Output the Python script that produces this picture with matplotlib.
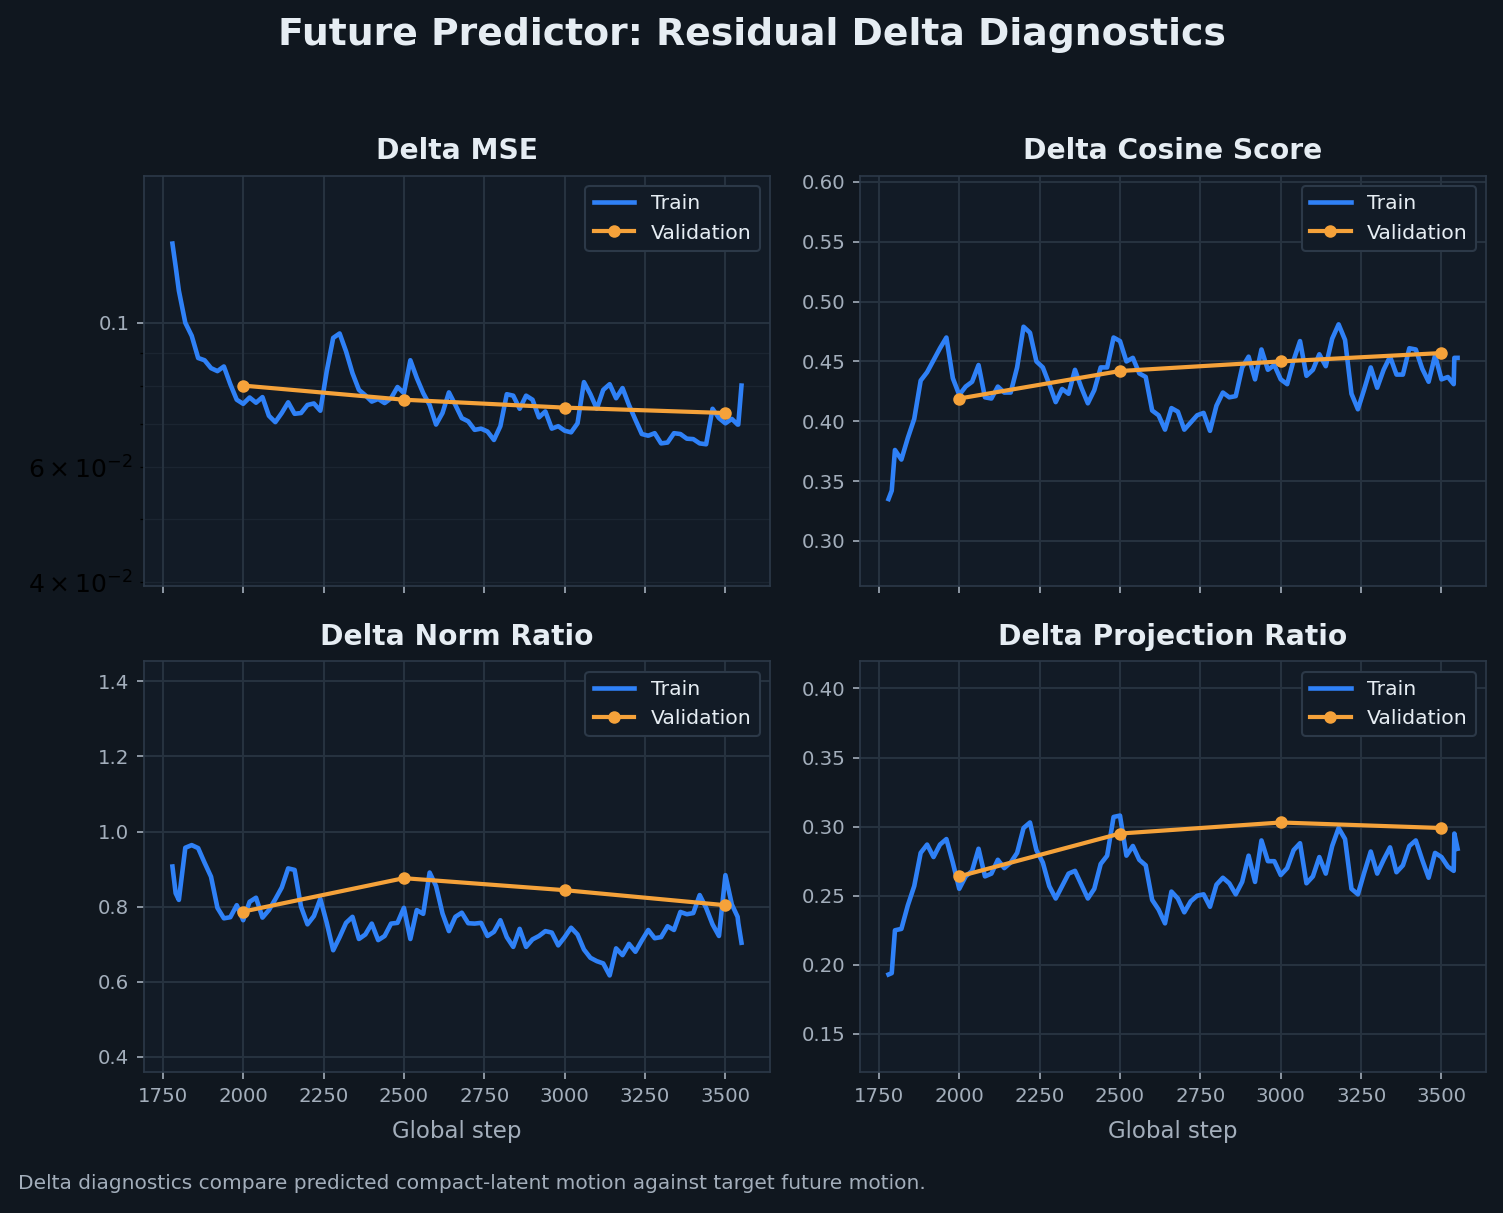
import numpy as np
import matplotlib
matplotlib.use("Agg")
import matplotlib.pyplot as plt
from matplotlib.ticker import FormatStrFormatter

# colours
BG = "#10171f"
AX_BG = "#121b26"
GRID = "#26323f"
SPINE = "#2c3948"
TXT = "#e6edf3"
MUTED = "#a3aebb"
TRAIN_C = "#2f81f7"
VAL_C = "#f5a23a"

# train steps (logged about every 20 steps, a couple of extra points at both ends)
train_steps = [1780, 1790] + list(range(1800, 3521, 20)) + [3538, 3540, 3550]
val_steps = [2000, 2500, 3000, 3500]

mse_train = [
    0.1323, 0.122,
    0.112, 0.100, 0.0955, 0.0883, 0.0876, 0.0852, 0.0843, 0.0857, 0.0805, 0.0762,
    0.0751, 0.0768, 0.0754, 0.0769, 0.0720, 0.0704, 0.0727, 0.0755, 0.0725, 0.0727,
    0.0748, 0.0752, 0.0733, 0.0843, 0.0948, 0.0963, 0.0904, 0.0837, 0.0789, 0.0774,
    0.0757, 0.0764, 0.0753, 0.0766, 0.0797, 0.0780, 0.0876, 0.0823, 0.0780, 0.0748,
    0.0698, 0.0727, 0.0782, 0.0748, 0.0714, 0.0706, 0.0685, 0.0688, 0.0681, 0.0661,
    0.0694, 0.0777, 0.0773, 0.0738, 0.0773, 0.0762, 0.0716, 0.0731, 0.0688, 0.0694,
    0.0683, 0.0679, 0.0701, 0.0811, 0.0777, 0.0738, 0.0789, 0.0805, 0.0766, 0.0794,
    0.0748, 0.0710, 0.0675, 0.0671, 0.0677, 0.0653, 0.0655, 0.0677, 0.0675, 0.0664,
    0.0663, 0.0653, 0.0651, 0.0738, 0.0714, 0.0701, 0.0712, 0.0698, 0.0698, 0.0801,
]
mse_val = [0.0801, 0.0762, 0.0741, 0.0727]

cos_train = [
    0.335, 0.342,
    0.376, 0.368, 0.386, 0.402, 0.434, 0.441, 0.451, 0.461, 0.470, 0.436,
    0.422, 0.429, 0.433, 0.447, 0.420, 0.419, 0.429, 0.424, 0.424, 0.445,
    0.479, 0.474, 0.450, 0.445, 0.431, 0.416, 0.427, 0.423, 0.443, 0.428,
    0.415, 0.426, 0.445, 0.445, 0.470, 0.467, 0.450, 0.453, 0.440, 0.437,
    0.409, 0.405, 0.393, 0.411, 0.408, 0.393, 0.399, 0.405, 0.407, 0.392,
    0.413, 0.424, 0.420, 0.421, 0.445, 0.454, 0.435, 0.460, 0.443, 0.447,
    0.435, 0.431, 0.451, 0.467, 0.438, 0.443, 0.456, 0.446, 0.469, 0.481,
    0.468, 0.423, 0.410, 0.427, 0.445, 0.428, 0.443, 0.454, 0.439, 0.439,
    0.461, 0.460, 0.444, 0.433, 0.455, 0.435, 0.437, 0.431, 0.453, 0.453,
]
cos_val = [0.419, 0.442, 0.450, 0.457]

norm_train = [
    0.907, 0.836,
    0.818, 0.957, 0.964, 0.956, 0.917, 0.880, 0.797, 0.769, 0.772, 0.804,
    0.764, 0.813, 0.824, 0.771, 0.791, 0.820, 0.851, 0.902, 0.898, 0.800,
    0.753, 0.775, 0.821, 0.757, 0.684, 0.719, 0.757, 0.773, 0.714, 0.726,
    0.755, 0.711, 0.722, 0.755, 0.757, 0.797, 0.714, 0.791, 0.781, 0.891,
    0.855, 0.782, 0.735, 0.773, 0.784, 0.756, 0.755, 0.757, 0.722, 0.733,
    0.764, 0.719, 0.693, 0.741, 0.693, 0.713, 0.722, 0.735, 0.731, 0.697,
    0.719, 0.744, 0.726, 0.686, 0.664, 0.655, 0.649, 0.617, 0.689, 0.671,
    0.701, 0.680, 0.710, 0.738, 0.716, 0.719, 0.748, 0.738, 0.786, 0.780,
    0.783, 0.831, 0.797, 0.753, 0.722, 0.884, 0.806, 0.773, 0.757, 0.704,
]
norm_val = [0.787, 0.876, 0.844, 0.804]

proj_train = [
    0.193, 0.194,
    0.225, 0.226, 0.243, 0.257, 0.281, 0.287, 0.278, 0.287, 0.291, 0.274,
    0.255, 0.264, 0.268, 0.284, 0.264, 0.266, 0.276, 0.270, 0.274, 0.281,
    0.299, 0.303, 0.283, 0.274, 0.257, 0.248, 0.257, 0.266, 0.268, 0.258,
    0.248, 0.255, 0.273, 0.279, 0.307, 0.308, 0.279, 0.286, 0.276, 0.272,
    0.247, 0.240, 0.230, 0.253, 0.248, 0.238, 0.246, 0.250, 0.251, 0.242,
    0.258, 0.263, 0.259, 0.251, 0.260, 0.279, 0.260, 0.290, 0.275, 0.275,
    0.265, 0.270, 0.283, 0.288, 0.259, 0.264, 0.278, 0.266, 0.286, 0.299,
    0.291, 0.255, 0.251, 0.267, 0.282, 0.266, 0.276, 0.285, 0.267, 0.272,
    0.286, 0.290, 0.276, 0.263, 0.281, 0.278, 0.271, 0.268, 0.295, 0.284,
]
proj_val = [0.264, 0.295, 0.303, 0.299]

panels = [
    ("Delta MSE", mse_train, mse_val, (0.0394, 0.168)),
    ("Delta Cosine Score", cos_train, cos_val, (0.262, 0.605)),
    ("Delta Norm Ratio", norm_train, norm_val, (0.360, 1.453)),
    ("Delta Projection Ratio", proj_train, proj_val, (0.1225, 0.4195)),
]

fig, axes = plt.subplots(2, 2, figsize=(10.02, 8.087), dpi=150, sharex=True)
fig.patch.set_facecolor(BG)
fig.subplots_adjust(left=0.0958, right=0.9887, top=0.8549, bottom=0.1163,
                    wspace=0.144, hspace=0.183)

for ax, (title, tr, va, ylim) in zip(axes.flat, panels):
    ax.set_facecolor(AX_BG)
    ax.plot(train_steps, tr, color=TRAIN_C, lw=2.2, label="Train")
    ax.plot(val_steps, va, color=VAL_C, lw=2.0, marker="o", ms=5, label="Validation")
    ax.set_title(title, color=TXT, fontsize=13.5, fontweight="bold", pad=8)
    if title == "Delta MSE":
        ax.set_yscale("log")
        ax.yaxis.set_major_formatter(FormatStrFormatter("%g"))
        ax.grid(True, which="minor", color=GRID, lw=0.6, alpha=0.45)
        ax.tick_params(axis="y", which="minor", labelsize=12)
    ax.set_ylim(*ylim)
    ax.grid(True, which="major", color=GRID, lw=1.0)
    ax.set_axisbelow(True)
    for sp in ax.spines.values():
        sp.set_color(SPINE)
    ax.tick_params(axis="both", which="major", colors=MUTED, labelsize=9.5)
    leg = ax.legend(loc="upper right", fontsize=9.8, facecolor=AX_BG,
                    edgecolor=SPINE, framealpha=1.0)
    for t in leg.get_texts():
        t.set_color(TXT)

for ax in axes[1]:
    ax.set_xlabel("Global step", color=MUTED, fontsize=11, labelpad=7)

fig.suptitle("Future Predictor: Residual Delta Diagnostics", color=TXT,
             fontsize=18.1, fontweight="bold", y=0.9715, va="center")
fig.text(0.012, 0.024, "Delta diagnostics compare predicted compact-latent motion against target future motion.",
         color=MUTED, fontsize=9.7, ha="left", va="center")

fig.savefig("out.png", dpi=150, facecolor=BG)
